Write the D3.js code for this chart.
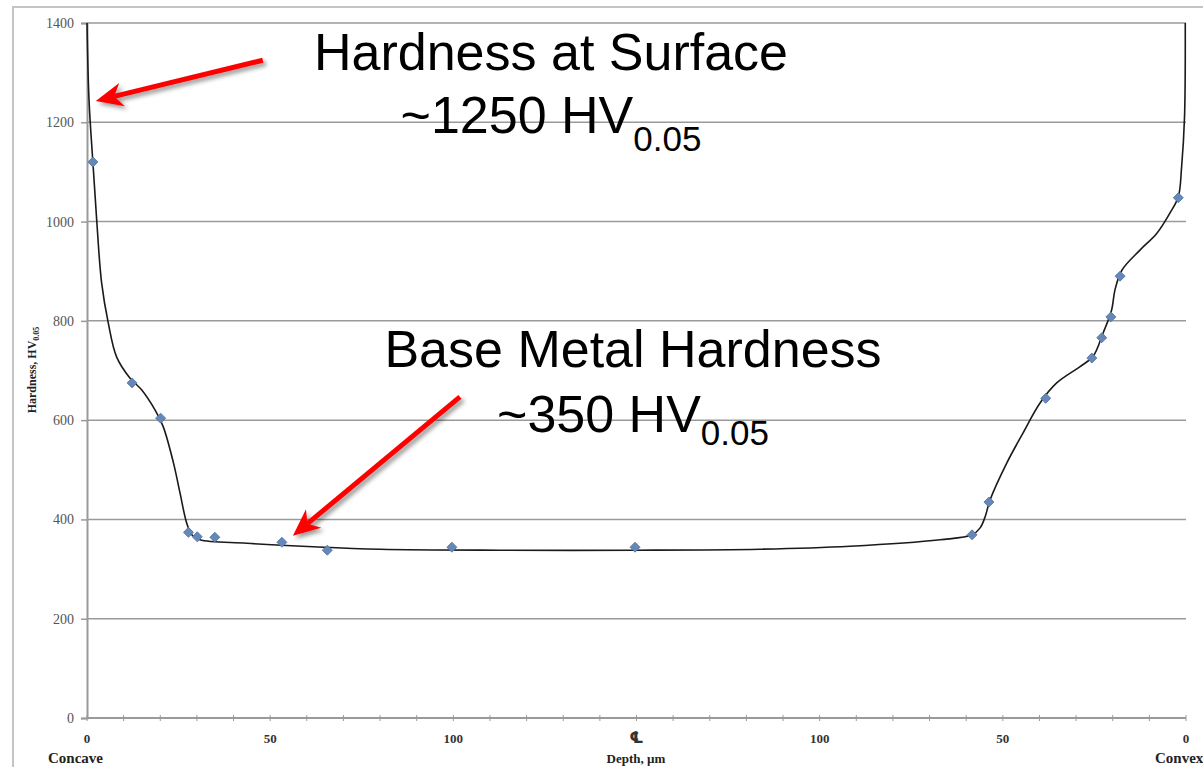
<!DOCTYPE html>
<html>
<head>
<meta charset="utf-8">
<script src="https://cdn.jsdelivr.net/npm/d3@7"></script>
<style>
  body { margin: 0; background: #fff; }
  svg { display: block; }
</style>
</head>
<body>
<div id="chart-area"></div>
<script>

//**************** Data *****************//

// measured indents, position = distance from the concave surface (µm)
let measuredPos = [1.6, 12.3, 20.1, 27.7, 30.1, 34.9, 53.2, 65.6, 99.6, 149.6,
	241.6, 246.2, 261.7, 274.3, 277.0, 279.5, 282.0, 297.9];
let measuredHV = [1120, 675, 604, 374, 365, 364, 354, 338, 344, 344,
	369, 435, 644, 725, 766, 808, 890, 1048];

// hand drawn fit line
let fitPos = [0, 0.55, 1.6, 2.7, 4.0, 5.8, 8.1, 11.7, 14.9, 18.6, 20.8, 23.6, 25.4,
	27.2, 28.6, 30.8, 43.6, 61.7, 80, 112.7, 149.6, 183.7, 208.3, 232.9, 241.6,
	243.8, 245.2, 246.5, 251.1, 255.5, 260.2, 264.7, 271.1, 274.6, 277.4, 279.7,
	280.6, 282.5, 287.5, 292.0, 295.6, 297.9, 298.8, 299.6, 299.8];
let fitHV = [1400, 1245, 1120, 997, 876, 796, 727, 685, 661, 620, 587, 514, 453,
	393, 369, 359, 352, 345, 340, 338, 338, 340, 346, 359, 369,
	383, 406, 439, 514, 574, 635, 675, 708, 728, 776, 822,
	862, 902, 943, 976, 1017, 1050, 1110, 1211, 1400];

// tick labels
let yTicks = [0, 200, 400, 600, 800, 1000, 1200, 1400];
let xTickPos = [0, 50, 100, 150, 200, 250, 300];
let xTickLabels = ['0', '50', '100', '\u2104', '100', '50', '0'];

// annotation arrows: [tailPos, tailHV, tipPos, tipHV]
let arrows = [
	[48, 1325, 2.4, 1243],
	[101.8, 647, 56.2, 367]
];


//**************** Canvas *****************//

let width = 1203, height = 767;

let svg = d3.select('#chart-area').append('svg')
	.attr('width', width)
	.attr('height', height);

let defs = svg.append('defs');
defs.append('filter')
	.attr('id', 'shadow')
	.attr('x', '-20%').attr('y', '-20%')
	.attr('width', '150%').attr('height', '150%')
	.append('feDropShadow')
		.attr('dx', 3).attr('dy', 3)
		.attr('stdDeviation', 2)
		.attr('flood-color', '#000')
		.attr('flood-opacity', 0.4);

// outer chart frame
svg.append('rect')
	.attr('x', 13).attr('y', 7)
	.attr('width', 1300).attr('height', 900)
	.attr('fill', 'none')
	.attr('stroke', '#c4c4c4')
	.attr('stroke-width', 2);


//**************** Scales & Axes *****************//

let x = d3.scaleLinear()
	.domain([0, 300])
	.range([87, 1186]);

let y = d3.scaleLinear()
	.domain([0, 1400])
	.range([718, 23]);

// gridlines
svg.append('g').selectAll('line')
	.data(yTicks.filter(d => d > 0))
	.enter().append('line')
		.attr('x1', x(0)).attr('x2', x(300))
		.attr('y1', d => y(d)).attr('y2', d => y(d))
		.attr('stroke', '#9a9a9a')
		.attr('stroke-width', 1.5);

// y axis
let yAxisGroup = svg.append('g')
	.attr('transform', 'translate(' + x(0) + ', 0)')
	.call(d3.axisLeft(y)
		.tickValues(yTicks)
		.tickFormat(d3.format('d'))
		.tickSize(6)
		.tickPadding(7));

yAxisGroup.select('.domain').attr('stroke', '#9a9a9a').attr('stroke-width', 2);
yAxisGroup.selectAll('.tick line').attr('stroke', '#9a9a9a').attr('stroke-width', 1.5);
yAxisGroup.selectAll('.tick text')
	.attr('font-family', 'Liberation Serif, serif')
	.attr('font-size', '14px')
	.attr('fill', '#555');

// x axis (minor ticks every 10 µm crossing the line)
let xAxisGroup = svg.append('g')
	.attr('transform', 'translate(0, ' + y(0) + ')');

xAxisGroup.append('line')
	.attr('x1', x(0)).attr('x2', x(300))
	.attr('stroke', '#9a9a9a')
	.attr('stroke-width', 2);

xAxisGroup.selectAll('.minor')
	.data(d3.range(0, 301, 10))
	.enter().append('line')
		.attr('class', 'minor')
		.attr('x1', d => x(d)).attr('x2', d => x(d))
		.attr('y1', -3).attr('y2', 3)
		.attr('stroke', '#9a9a9a')
		.attr('stroke-width', 1);

xAxisGroup.selectAll('.xlabel')
	.data(xTickPos)
	.enter().append('text')
		.attr('class', 'xlabel')
		.attr('x', d => x(d))
		.attr('y', 25)
		.attr('text-anchor', 'middle')
		.attr('font-family', (d, i) => xTickLabels[i] === '\u2104' ? 'DejaVu Sans, sans-serif' : 'Liberation Serif, serif')
		.attr('font-weight', 'bold')
		.attr('font-size', (d, i) => xTickLabels[i] === '\u2104' ? '16px' : '13px')
		.attr('fill', '#333')
		.text((d, i) => xTickLabels[i]);


//**************** Labels *****************//

let serifBold = t => t
	.attr('font-family', 'Liberation Serif, serif')
	.attr('font-weight', 'bold')
	.attr('fill', '#222');

svg.append('text')
	.attr('x', 48).attr('y', 763)
	.attr('font-size', '15px')
	.call(serifBold)
	.text('Concave');

svg.append('text')
	.attr('x', 636).attr('y', 763)
	.attr('text-anchor', 'middle')
	.attr('font-size', '13px')
	.call(serifBold)
	.text('Depth, µm');

svg.append('text')
	.attr('x', 1155).attr('y', 763)
	.attr('font-size', '15px')
	.call(serifBold)
	.text('Convex');

let yLabel = svg.append('text')
	.attr('transform', 'translate(36, 370) rotate(-90)')
	.attr('text-anchor', 'middle')
	.attr('font-size', '12px')
	.call(serifBold);
yLabel.append('tspan').text('Hardness, HV');
yLabel.append('tspan').attr('font-size', '8px').attr('dy', 3).text('0.05');


//**************** Fit line & points *****************//

let line = d3.line()
	.x(d => x(d[0]))
	.y(d => y(d[1]))
	.curve(d3.curveCatmullRom.alpha(0.5));

svg.append('path')
	.datum(fitPos.map((p, i) => [p, fitHV[i]]))
	.attr('d', line)
	.attr('fill', 'none')
	.attr('stroke', '#1a1a1a')
	.attr('stroke-width', 1.6);

svg.append('g').selectAll('path')
	.data(measuredPos.map((p, i) => [p, measuredHV[i]]))
	.enter().append('path')
		.attr('d', d3.symbol(d3.symbolSquare, 50))
		.attr('transform', d => 'translate(' + x(d[0]) + ',' + y(d[1]) + ') rotate(45)')
		.attr('fill', '#6688b8')
		.attr('stroke', '#52739f')
		.attr('stroke-width', 0.8);


//**************** Annotations *****************//

let arrowG = svg.append('g').attr('filter', 'url(#shadow)');

arrows.forEach(a => {
	let x0 = x(a[0]), y0 = y(a[1]), x1 = x(a[2]), y1 = y(a[3]);
	let len = Math.hypot(x0 - x1, y0 - y1);
	let ux = (x0 - x1) / len, uy = (y0 - y1) / len;   // tip -> tail
	let nx = -uy, ny = ux;
	let headLen = 27, halfW = 12, notch = 19;

	arrowG.append('line')
		.attr('x1', x0).attr('y1', y0)
		.attr('x2', x1 + ux * notch).attr('y2', y1 + uy * notch)
		.attr('stroke', '#ff0000')
		.attr('stroke-width', 5);

	let head = [
		[x1, y1],
		[x1 + ux * headLen + nx * halfW, y1 + uy * headLen + ny * halfW],
		[x1 + ux * notch, y1 + uy * notch],
		[x1 + ux * headLen - nx * halfW, y1 + uy * headLen - ny * halfW]
	];
	arrowG.append('path')
		.attr('d', 'M' + head.join('L') + 'Z')
		.attr('fill', '#ff0000');
});

let sans = 'Liberation Sans, Arial, sans-serif';

function note(cx, yTop, yBottom, title, value, subDy) {
	svg.append('text')
		.attr('x', cx).attr('y', yTop)
		.attr('text-anchor', 'middle')
		.attr('font-family', sans)
		.attr('font-size', '52px')
		.attr('fill', '#000')
		.text(title);

	let t = svg.append('text')
		.attr('x', cx).attr('y', yBottom)
		.attr('text-anchor', 'middle')
		.attr('font-family', sans)
		.attr('font-size', '52px')
		.attr('fill', '#000');
	t.append('tspan').text(value);
	t.append('tspan').attr('font-size', '35px').attr('dy', subDy).text('0.05');
}

note(551, 70, 133, 'Hardness at Surface', '~1250 HV', 18);
note(633, 367, 432, 'Base Metal Hardness', '~350 HV', 13);

</script>
</body>
</html>
